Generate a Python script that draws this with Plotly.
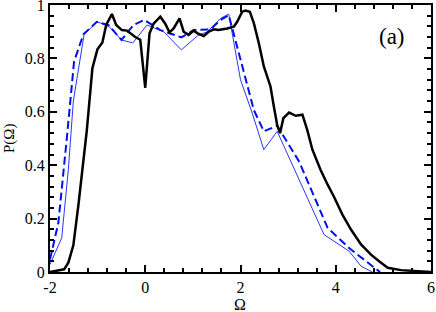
import plotly.graph_objects as go

# ---- data ----
black_x = [-2.0, -1.705, -1.615, -1.51, -1.404, -1.31, -1.227, -1.11, -1.004, -0.90, -0.82, -0.70,
           -0.61, -0.49, -0.385, -0.21, -0.105, 0.0, 0.09, 0.175, 0.316, 0.42, 0.51, 0.596, 0.72,
           0.806, 0.91, 1.017, 1.10, 1.227, 1.333, 1.44, 1.54, 1.72, 1.86, 1.93, 2.036, 2.105,
           2.196, 2.28, 2.385, 2.49, 2.63, 2.70, 2.77, 2.83, 2.90, 3.02, 3.16, 3.30, 3.40, 3.51,
           3.68, 3.83, 3.96, 4.14, 4.32, 4.53, 4.74, 4.91, 5.09, 5.37, 5.65, 6.0]
black_y = [0.0, 0.01, 0.035, 0.10, 0.25, 0.41, 0.53, 0.763, 0.834, 0.86, 0.925, 0.966,
           0.925, 0.906, 0.904, 0.88, 0.87, 0.69, 0.894, 0.93, 0.956, 0.93, 0.897, 0.912, 0.95,
           0.90, 0.888, 0.904, 0.894, 0.884, 0.90, 0.909, 0.906, 0.912, 0.919, 0.937, 0.975, 0.979,
           0.975, 0.932, 0.857, 0.77, 0.695, 0.62, 0.551, 0.52, 0.576, 0.597, 0.585, 0.589, 0.533, 0.458,
           0.383, 0.327, 0.283, 0.215, 0.159, 0.103, 0.065, 0.04, 0.016, 0.007, 0.003, 0.0]

thin_x = [-2.0, -1.754, -1.615, -1.51, -1.284, -1.004, -0.758, -0.50, -0.26, 0.036, 0.385,
          0.758, 1.10, 1.305, 1.58, 1.754, 2.0, 2.246, 2.49, 2.77, 3.754, 4.28, 4.53, 4.77]
thin_y = [0.028, 0.128, 0.383, 0.64, 0.89, 0.937, 0.919, 0.869, 0.858, 0.925, 0.90,
          0.832, 0.885, 0.90, 0.95, 0.966, 0.72, 0.595, 0.458, 0.527, 0.14, 0.078, 0.022, 0.0]

dash_x = [-2.0, -1.825, -1.65, -1.495, -1.30, -1.017, -0.77, -0.50, -0.246, -0.02, 0.316,
          0.758, 1.017, 1.37, 1.58, 1.754, 2.28, 2.49, 2.77, 3.23, 3.83, 4.28, 4.81, 4.93]
dash_y = [0.047, 0.184, 0.495, 0.788, 0.89, 0.937, 0.925, 0.869, 0.925, 0.944, 0.906,
          0.879, 0.906, 0.909, 0.944, 0.962, 0.607, 0.527, 0.548, 0.414, 0.165, 0.09, 0.016, 0.0]

x_tickvals = [-2, 0, 2, 4, 6]
x_ticktext = ["-2", "0", "2", "4", "6"]
y_tickvals = [0, 0.2, 0.4, 0.6, 0.8, 1.0]
y_ticktext = ["0", "0.2", "0.4", "0.6", "0.8", "1"]

SERIF = "Liberation Serif"

fig = go.Figure()
fig.add_trace(go.Scatter(x=thin_x, y=thin_y, mode="lines",
                         line=dict(color="#2a35ff", width=1)))
fig.add_trace(go.Scatter(x=dash_x, y=dash_y, mode="lines",
                         line=dict(color="#0010e8", width=2, dash="8px,4px")))
fig.add_trace(go.Scatter(x=black_x, y=black_y, mode="lines",
                         line=dict(color="black", width=2.5)))

axis_common = dict(
    showline=True, linecolor="black", linewidth=2, mirror="allticks",
    ticks="inside", ticklen=7, tickwidth=2, tickcolor="black",
    showgrid=False, zeroline=False, automargin=False,
    ticklabeloverflow="allow",
    tickfont=dict(family=SERIF, size=16, color="black"),
)

fig.update_xaxes(range=[-2, 6], tickvals=x_tickvals, ticktext=x_ticktext,
                 minor=dict(dtick=0.4, tick0=-2, ticks="inside", ticklen=4, tickwidth=1.5,
                            tickcolor="black", showgrid=False),
                 **axis_common)
fig.update_yaxes(range=[0, 1], tickvals=y_tickvals, ticktext=y_ticktext,
                 minor=dict(dtick=0.04, tick0=0, ticks="inside", ticklen=4, tickwidth=1.5,
                            tickcolor="black", showgrid=False),
                 **axis_common)

L, R, T, B = 50, 431, 5, 272
PW, PH = R - L, B - T


def px(xp, yp):
    return (xp - L) / PW, 1 - (yp - T) / PH


ax, ay = px(392, 37)
fig.add_annotation(x=ax, y=ay, xref="paper", yref="paper", text="(a)", showarrow=False,
                   xanchor="center", yanchor="middle",
                   font=dict(family=SERIF, size=23, color="black"))
tx, ty = px(240, 304)
fig.add_annotation(x=tx, y=ty, xref="paper", yref="paper", text="Ω", showarrow=False,
                   xanchor="center", yanchor="middle",
                   font=dict(family=SERIF, size=16, color="black"))
yx, yy = px(9, 139)
fig.add_annotation(x=yx, y=yy, xref="paper", yref="paper", text="P(Ω)", showarrow=False,
                   xanchor="center", yanchor="middle", textangle=-90,
                   font=dict(family=SERIF, size=15, color="black"))

fig.update_layout(width=436, height=312, margin=dict(l=L, r=436 - R, t=T, b=312 - B),
                  font=dict(family=SERIF, color="black"),
                  plot_bgcolor="white", paper_bgcolor="white", showlegend=False)

fig.write_html("out.html", config={"displayModeBar": False},
               post_script="document.body.style.margin='0';document.body.style.padding='0';"
                           "document.body.style.overflow='hidden';")
